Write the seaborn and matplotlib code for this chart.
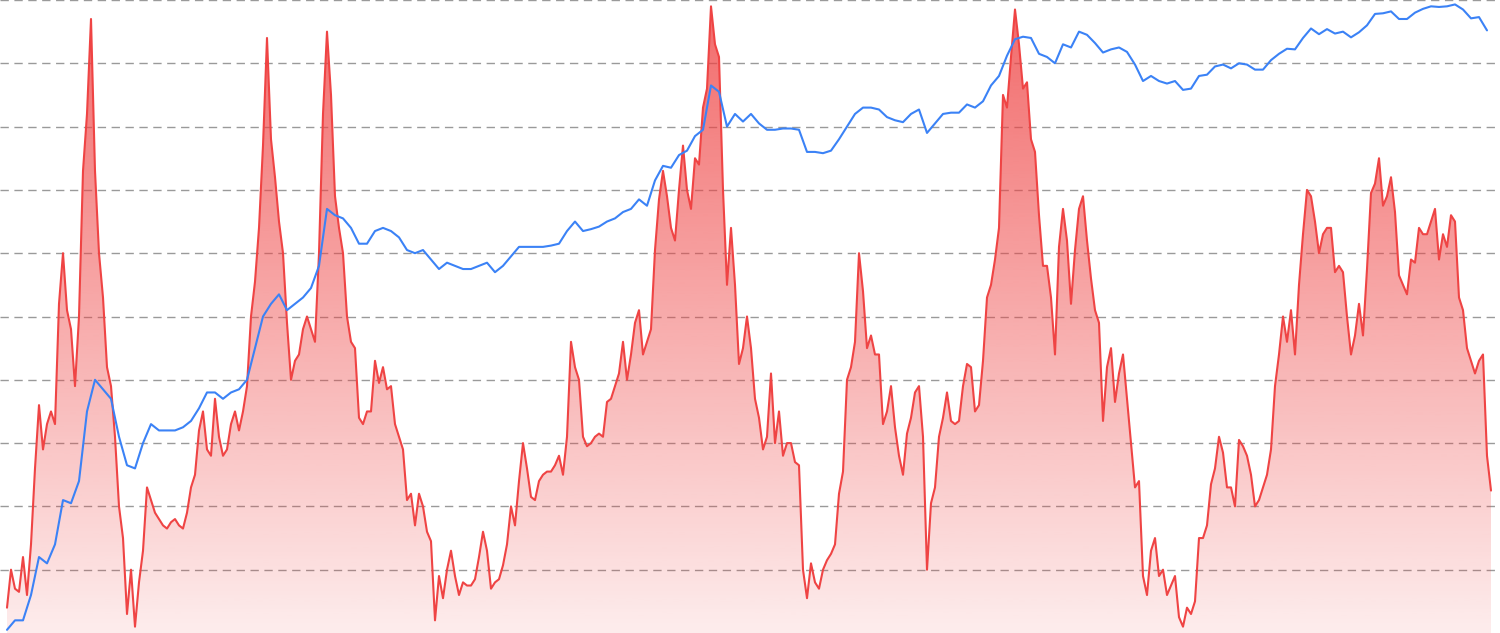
import numpy as np
import pandas as pd
import seaborn as sns
import matplotlib.pyplot as plt
import matplotlib.dates as mdates
from matplotlib.colors import to_rgb

# ======================================
# Data (0-10 grid units)
# ======================================

start_date = "2010-07-20"
step_days = 15

indicator = [
    0.4, 1.0, 0.7, 0.65, 1.2, 0.6, 1.4, 2.6, 3.6, 2.9,
    3.3, 3.5, 3.3, 5.2, 6.0, 5.1, 4.8, 3.9, 5.0, 7.3,
    8.2, 9.7, 7.3, 6.0, 5.3, 4.2, 3.9, 3.1, 2.0, 1.5,
    0.3, 1.0, 0.1, 0.8, 1.3, 2.3, 2.1, 1.9, 1.8, 1.7,
    1.65, 1.75, 1.8, 1.7, 1.65, 1.9,
    2.3, 2.5, 3.2, 3.5, 2.9, 2.8, 3.7, 3.1, 2.8, 2.9,
    3.3, 3.5, 3.2, 3.5, 3.9, 5.0, 5.55, 6.4, 7.7, 9.4,
    7.8, 7.2, 6.5, 6.0, 4.9, 4.0, 4.3, 4.4, 4.8, 5.0,
    4.8, 4.6, 6.0, 8.2, 9.5, 8.5, 6.9, 6.4, 6.0, 5.0,
    4.6, 4.5, 3.4, 3.3, 3.5, 3.5,
    4.3, 3.95, 4.2, 3.85, 3.9, 3.3, 3.1, 2.9, 2.1, 2.2,
    1.7, 2.2, 2.0, 1.6, 1.45, 0.2, 0.9, 0.55, 1.0, 1.3,
    0.9, 0.6, 0.8, 0.75, 0.75, 0.85, 1.2, 1.6, 1.3, 0.7,
    0.8, 0.85, 1.07, 1.4, 2.0, 1.7, 2.4, 3.0, 2.6, 2.15,
    2.1, 2.4, 2.5, 2.55, 2.55, 2.65, 2.8,
    2.5, 3.1, 4.6, 4.2, 4.0, 3.1, 2.95, 3.0, 3.1, 3.15,
    3.1, 3.65, 3.7, 3.9, 4.1, 4.6, 4.0, 4.4, 4.9, 5.1,
    4.4, 4.6, 4.8, 6.05, 6.85, 7.3, 6.9, 6.4, 6.2, 7.0,
    7.7, 7.0, 6.7, 7.5, 7.4, 8.3, 8.6, 9.9, 9.3, 9.1,
    7.0, 5.5, 6.4, 5.5, 4.25, 4.5,
    5.0, 4.5, 3.7, 3.4, 2.9, 3.1, 4.1, 3.0, 3.5, 2.8,
    3.0, 3.0, 2.7, 2.65, 1.0, 0.55, 1.1, 0.8, 0.7, 1.0,
    1.15, 1.25, 1.4, 2.2, 2.55, 4.0, 4.2, 4.6, 6.0, 5.4,
    4.5, 4.7, 4.4, 4.4, 3.3, 3.5, 3.9, 3.25, 2.8, 2.5,
    3.15, 3.4, 3.8, 3.9, 3.1, 1.0,
    2.05, 2.3, 3.1, 3.4, 3.8, 3.35, 3.3, 3.35, 3.9, 4.25,
    4.2, 3.5, 3.6, 4.3, 5.3, 5.5, 5.9, 6.4, 8.5, 8.3,
    9.1, 9.85, 9.3, 8.6, 8.7, 7.8, 7.6, 6.6, 5.8, 5.8,
    5.3, 4.4, 6.1, 6.7, 6.2, 5.2, 6.05, 6.7, 6.9, 6.2,
    5.6, 5.1, 4.9, 3.35, 4.2, 4.5,
    3.65, 4.1, 4.4, 3.7, 3.0, 2.3, 2.4, 0.9, 0.6, 1.3,
    1.5, 0.9, 1.0, 0.6, 0.75, 0.9, 0.25, 0.1, 0.4, 0.3,
    0.5, 1.5, 1.5, 1.7, 2.35, 2.6, 3.1, 2.85, 2.3, 2.3,
    2.0, 3.05, 2.95, 2.8, 2.5, 2.0, 2.1, 2.3, 2.5, 2.9,
    3.9, 4.4, 5.0, 4.6, 5.1, 4.4, 5.5,
    6.3, 7.0, 6.9, 6.5, 6.0, 6.3, 6.4, 6.4, 5.7, 5.8,
    5.7, 5.0, 4.4, 4.7, 5.2, 4.7, 5.75, 6.95, 7.1, 7.5,
    6.75, 6.9, 7.2, 6.65, 5.65, 5.5, 5.35, 5.9, 5.85, 6.4,
    6.3, 6.3, 6.5, 6.7, 5.9, 6.3, 6.1, 6.6, 6.5, 5.3,
    5.1, 4.5, 4.3, 4.1, 4.3, 4.4, 2.8, 2.25,
]

# price on log grid, sampled every second indicator date
price_log = [
    0.05, 0.2, 0.2, 0.6, 1.2, 1.1, 1.4, 2.1, 2.05, 2.4,
    3.5, 4.0, 3.85, 3.7, 3.1, 2.65, 2.6, 3.0, 3.3, 3.2,
    3.2, 3.2, 3.25, 3.35,
    3.55, 3.8, 3.8, 3.7, 3.8, 3.85, 4.0, 4.5, 5.0, 5.2,
    5.35, 5.1, 5.2, 5.3, 5.45, 5.8, 6.7, 6.6, 6.55, 6.4,
    6.15, 6.15, 6.35,
    6.4, 6.35, 6.25, 6.05, 6.0, 6.05, 5.9, 5.75, 5.85, 5.8,
    5.75, 5.75, 5.8, 5.85, 5.7, 5.8, 5.95, 6.1, 6.1, 6.1,
    6.1, 6.12, 6.15,
    6.35, 6.5, 6.35, 6.38, 6.42, 6.5, 6.55, 6.65, 6.7, 6.85,
    6.75, 7.15, 7.38, 7.35, 7.55, 7.62, 7.85, 7.95, 8.65, 8.55,
    8.0, 8.2, 8.08,
    8.2, 8.05, 7.95, 7.95, 7.97, 7.97, 7.95, 7.6, 7.6, 7.58,
    7.62, 7.8, 8.0, 8.2, 8.3, 8.3, 8.27, 8.15, 8.1, 8.07,
    8.2, 8.27, 7.9,
    8.05, 8.2, 8.22, 8.22, 8.35, 8.3, 8.4, 8.65, 8.8, 9.12,
    9.38, 9.42, 9.4, 9.15, 9.1, 9.0, 9.3, 9.25, 9.5, 9.45,
    9.32, 9.17, 9.22,
    9.25, 9.18, 8.98, 8.72, 8.8, 8.72, 8.68, 8.72, 8.58, 8.6,
    8.8, 8.82, 8.95, 8.98, 8.92, 9.0, 8.98, 8.9, 8.9, 9.05,
    9.15, 9.23, 9.22,
    9.4, 9.55, 9.46, 9.54, 9.47, 9.5, 9.41, 9.49, 9.6, 9.78,
    9.79, 9.82, 9.7, 9.7, 9.8, 9.86, 9.9, 9.89, 9.9, 9.93,
    9.85, 9.71, 9.73, 9.52,
]

grid_levels = [1, 2, 3, 4, 5, 6, 7, 8, 9, 10]

RED = "#ef4444"
BLUE = "#3b82f6"

# ======================================
# Frames
# ======================================

dates = pd.date_range(start_date, periods=len(indicator), freq=f"{step_days}D")
df_red = pd.DataFrame({"date": dates, "value": indicator})
df_blue = pd.DataFrame({"date": dates[::2][:len(price_log)], "value": price_log})

# ======================================
# Plot
# ======================================

sns.set_style("white")

fig = plt.figure(figsize=(15, 6.33), dpi=100)
ax = fig.add_axes([0, 0, 1, 1])

step = pd.Timedelta(days=step_days)
x_left = dates[0] - step * 7 / 4
x_right = dates[-1] + step * 9 / 4

# gradient fill under the red line
poly = ax.fill_between(df_red["date"], df_red["value"], 0, color="none", lw=0)
n = 256
rgba = np.zeros((n, 1, 4))
rgba[..., :3] = to_rgb(RED)
rgba[:, 0, 3] = np.linspace(0.1, 0.8, n)
x0, x1 = mdates.date2num(x_left), mdates.date2num(x_right)
im = ax.imshow(rgba, extent=[x0, x1, 0, 10], origin="lower",
               aspect="auto", zorder=1, interpolation="bilinear")
im.set_clip_path(poly.get_paths()[0], transform=ax.transData)

sns.lineplot(data=df_red, x="date", y="value", color=RED, lw=1.5,
             ax=ax, zorder=3)
sns.lineplot(data=df_blue, x="date", y="value", color=BLUE, lw=1.5,
             ax=ax, zorder=4)

ax.set_xlim(x_left, x_right)
ax.set_ylim(0, 10)
ax.set_yticks(grid_levels)
ax.yaxis.grid(True, linestyle=(0, (6, 4)), color="#9a9a9a", lw=1)
ax.xaxis.grid(False)
ax.set_axisbelow(True)
ax.tick_params(length=0, labelleft=False, labelbottom=False)
ax.set_xlabel("")
ax.set_ylabel("")
sns.despine(ax=ax, left=True, bottom=True)

fig.savefig("out.png", dpi=100)
